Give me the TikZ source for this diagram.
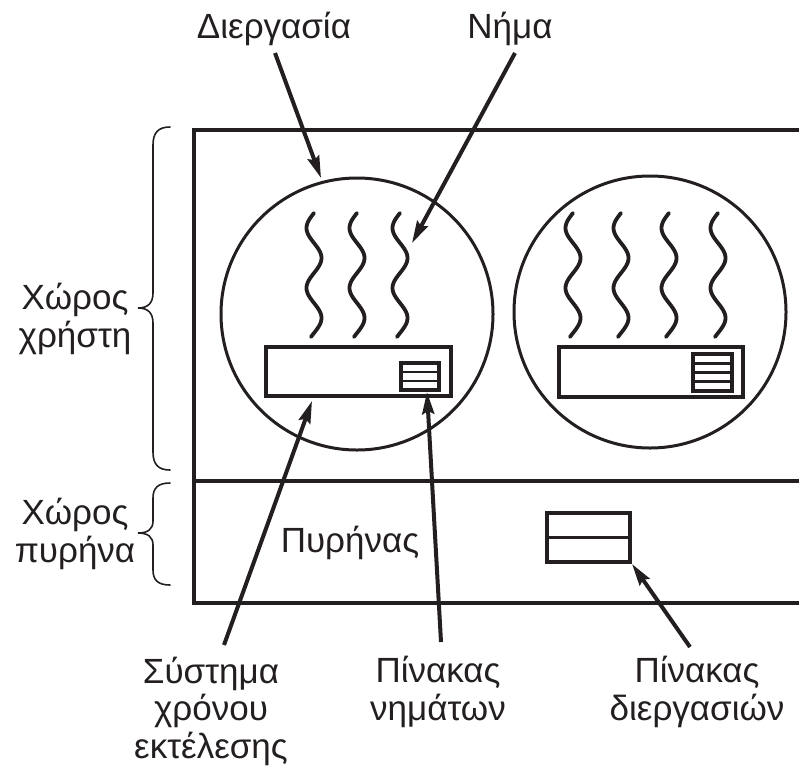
\documentclass[tikz,border=0pt]{standalone}
\usepackage{fontspec}
\setmainfont{Liberation Sans}
\usetikzlibrary{arrows.meta}
\definecolor{ink}{RGB}{35,31,32}
\begin{document}
\begin{tikzpicture}[x=1pt,y=-1pt,
  every node/.style={inner sep=0pt, outer sep=0pt, text=ink},
  lbl/.style={font=\fontsize{35}{37.5}\selectfont, align=center, anchor=base},
  frame/.style={draw=ink, line width=3.5pt},
  proc/.style={draw=ink, line width=3pt},
  wave/.style={draw=ink, line width=3.8pt, line cap=round},
  rtbox/.style={draw=ink, line width=3.2pt, rectangle, minimum width=185pt, minimum height=49pt},
  tbl/.style={draw=ink, line width=3.5pt},
  tline/.style={draw=ink, line width=2.6pt},
  arr/.style={draw=ink, line width=4pt, -{Stealth[length=22pt,width=12pt,inset=3pt]}},
  brace/.style={draw=ink, line width=1.6pt, line cap=round}]
\useasboundingbox (0,0) rectangle (799,769);
\begin{scope}
\clip (0,0) rectangle (799,769);
% outer frame
\draw[frame] (805,130) -- (194,130) -- (194,603) -- (805,603);
\draw[frame] (194,481) -- (805,481);

% processes
\node[proc, circle, minimum size=272pt] (p1) at (357,314) {};
\node[proc, circle, minimum size=272pt] (p2) at (650,312) {};

% threads
\foreach \c in {314,357,400}{
  \draw[wave] plot[domain=0:124, samples=90, smooth] ({\c - 7.5*sin(6*\x)}, {213+\x});
}
\foreach \c in {573,621,669,718}{
  \draw[wave] plot[domain=0:124, samples=90, smooth] ({\c - 7.5*sin(6*\x)}, {213+\x});
}

% run-time systems
\node[rtbox] (rt1) at (358.5,371.5) {};
\node[rtbox, minimum width=184pt, minimum height=50pt] (rt2) at (651,372) {};

% thread tables
\node[tbl, rectangle, minimum width=38pt, minimum height=27pt] (tt1) at (420,376.5) {};
\draw[tline] (tt1.west |- 0,372) -- (tt1.east |- 0,372);
\draw[tline] (tt1.west |- 0,381) -- (tt1.east |- 0,381);
\node[tbl, rectangle, minimum width=39pt, minimum height=37pt] (tt2) at (712.5,372.5) {};
\draw[tline] (tt2.west |- 0,363.5) -- (tt2.east |- 0,363.5);
\draw[tline] (tt2.west |- 0,372.5) -- (tt2.east |- 0,372.5);
\draw[tline] (tt2.west |- 0,381.5) -- (tt2.east |- 0,381.5);

% process table
\node[tbl, rectangle, minimum width=83pt, minimum height=49pt] (pt) at (588.5,537.5) {};
\draw[tline, line width=3pt] (pt.west) -- (pt.east);

% kernel label
\node[lbl] (kern) at (350,552) {Πυρήνας};
\end{scope}

% braces
\draw[brace] (170,127) .. controls (158,127) and (153,133) .. (153,145) -- (153,293)
  .. controls (153,303) and (148,308) .. (138,308) .. controls (148,308) and (153,313) .. (153,323)
  -- (153,452) .. controls (153,464) and (158,470) .. (170,470);
\draw[brace] (170,483) .. controls (158,483) and (153,488) .. (153,498) -- (153,521)
  .. controls (153,529) and (148,533) .. (138,533) .. controls (148,533) and (153,537) .. (153,545)
  -- (153,570) .. controls (153,580) and (158,585) .. (170,585);

% labels (anchor = baseline of last line)
\node[lbl] (user) at (75,347) {Χώρος\\χρήστη};
\node[lbl] (kspace) at (75,562) {Χώρος\\πυρήνα};
\node[lbl] (lproc) at (274,38) {Διεργασία};
\node[lbl] (lthr) at (510,38) {Νήμα};
\node[lbl] (lrt) at (211,758) {Σύστημα\\χρόνου\\εκτέλεσης};
\node[lbl] (ltt) at (438,720) {Πίνακας\\νημάτων};
\node[lbl] (lpt) at (697,720) {Πίνακας\\διεργασιών};

% arrows
\coordinate (a1s) at (275,53);  \coordinate (a1e) at (321,178);
\coordinate (a2s) at (515,53);  \coordinate (a2e) at (412,243);
\coordinate (a3s) at (224,645); \coordinate (a3e) at (312,401);
\coordinate (a4s) at (441,642); \coordinate (a4e) at (427,392);
\coordinate (a5s) at (690,647); \coordinate (a5e) at (632,564);
\draw[arr] (a1s) -- (a1e);
\draw[arr] (a2s) -- (a2e);
\draw[arr] (a3s) -- (a3e);
\draw[arr] (a4s) -- (a4e);
\draw[arr] (a5s) -- (a5e);
\end{tikzpicture}
\end{document}
